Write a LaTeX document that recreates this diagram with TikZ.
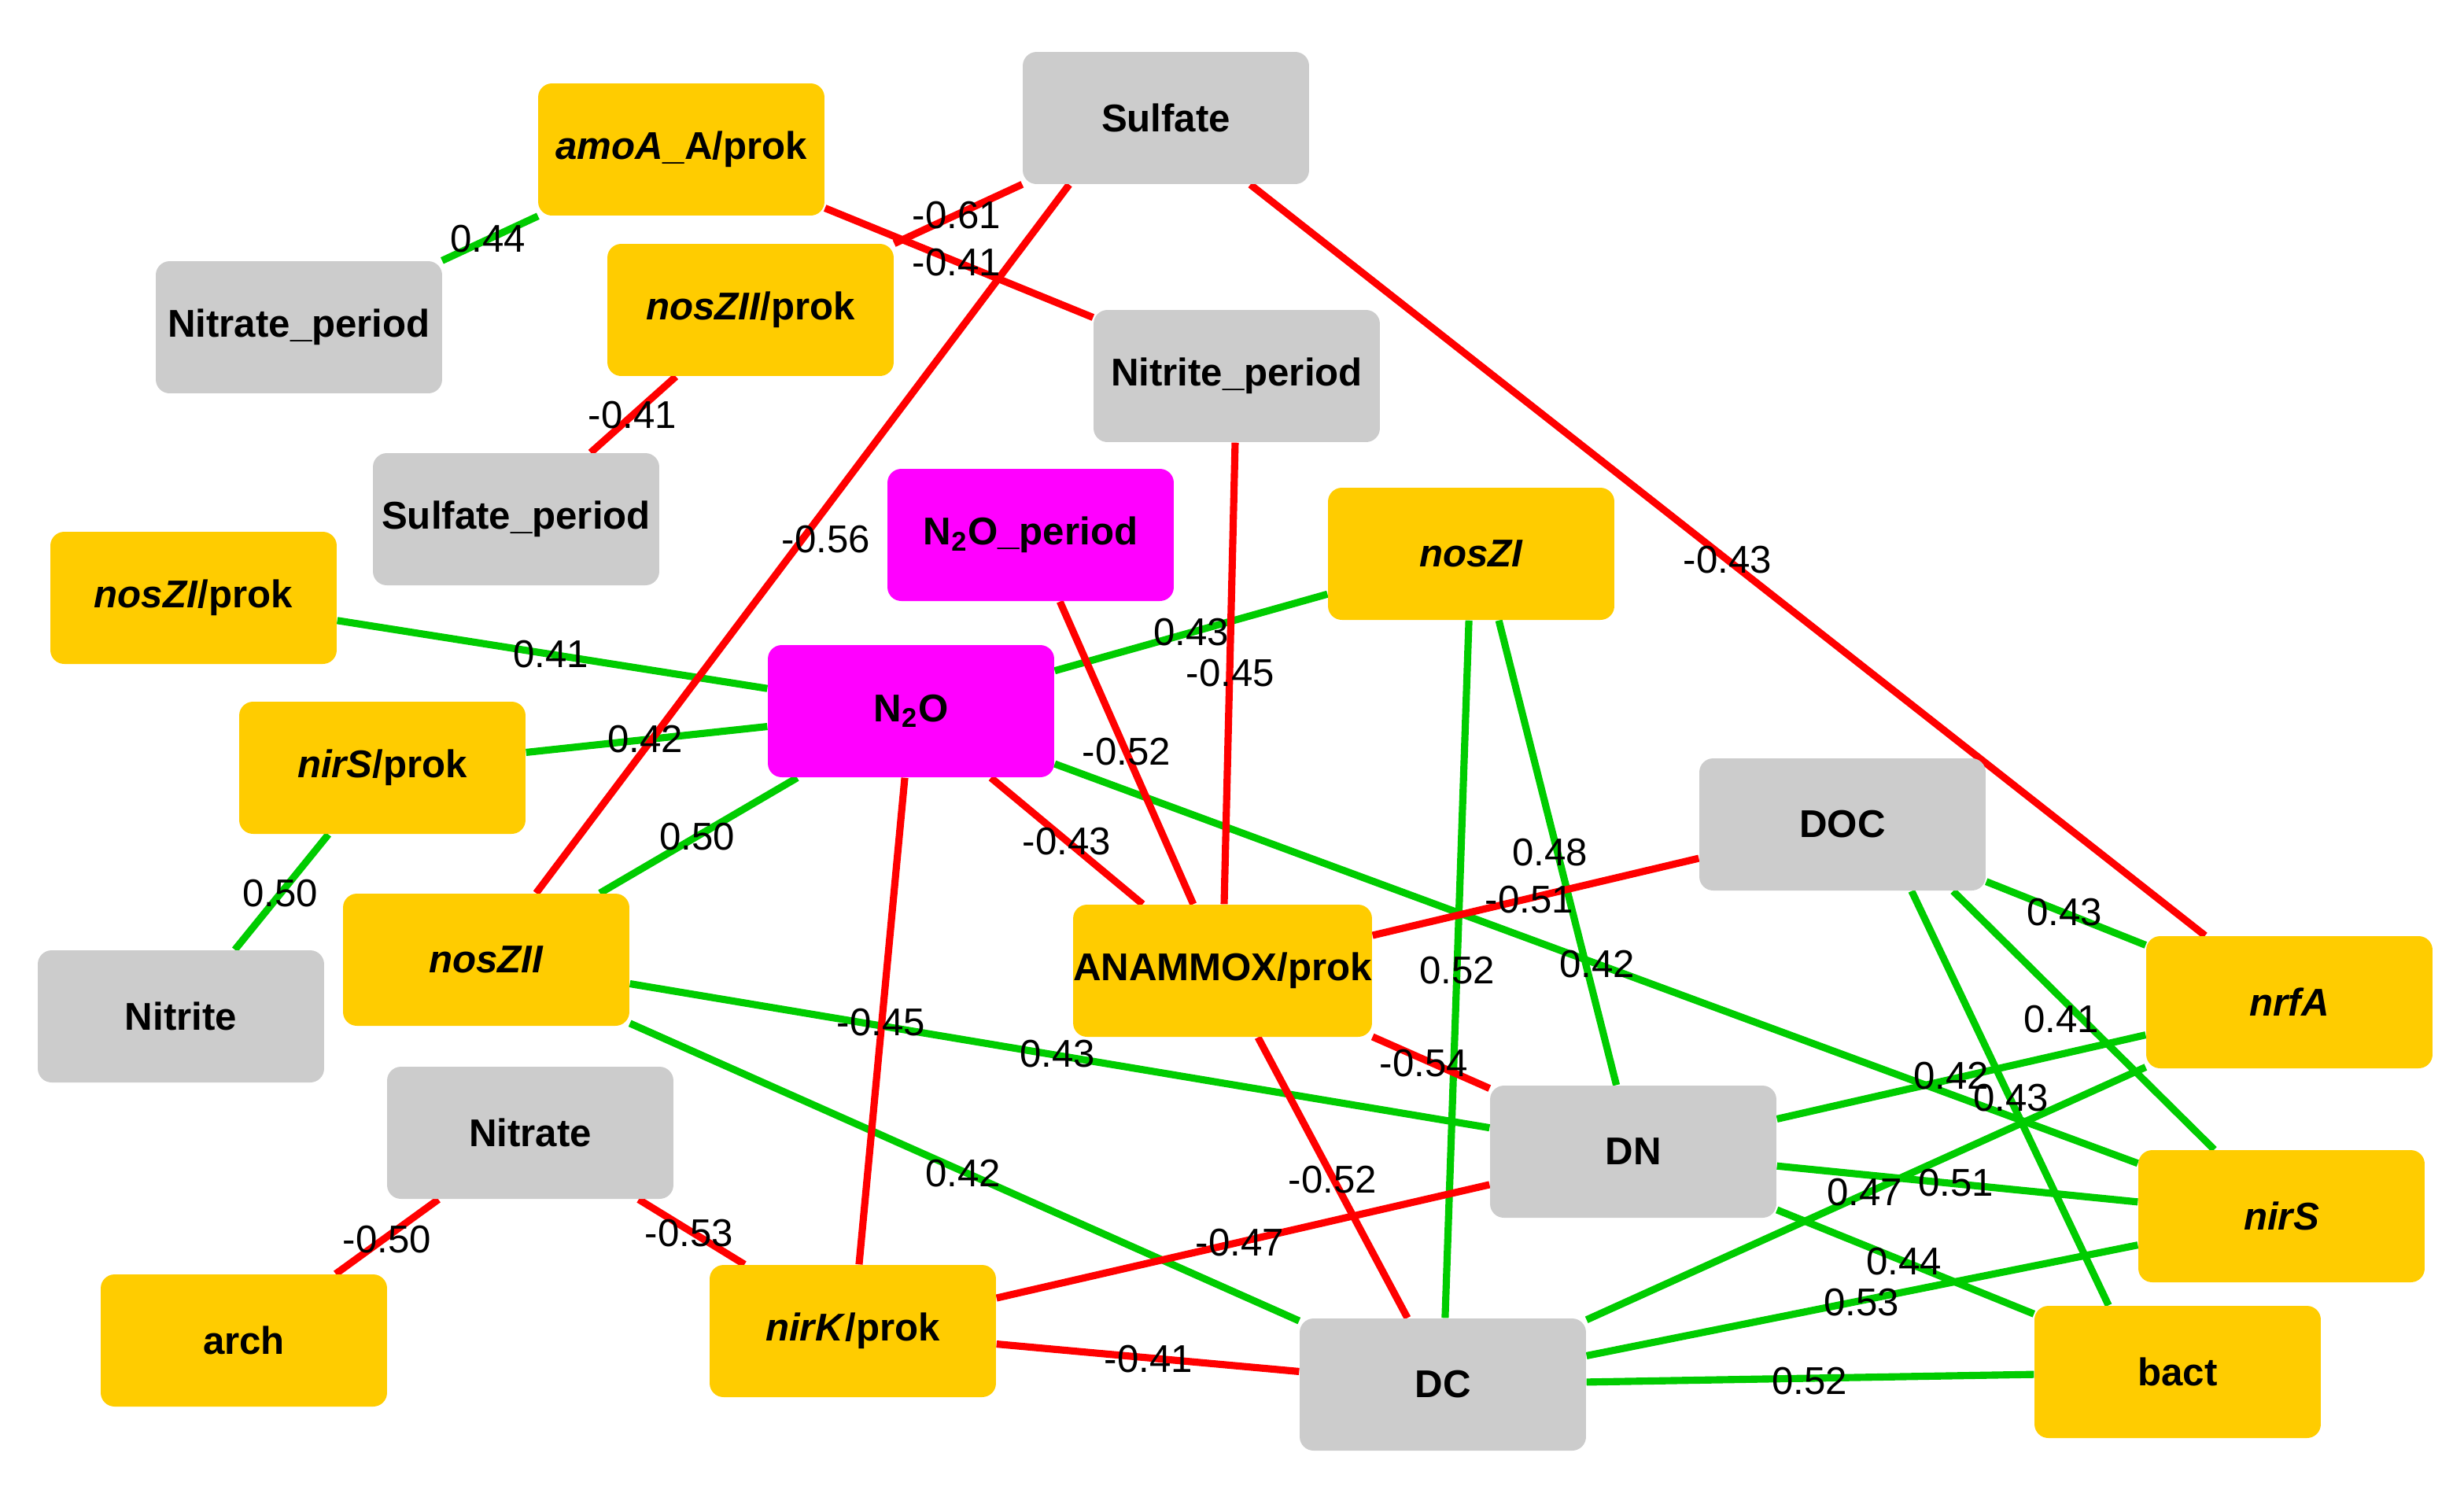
\documentclass[tikz,border=0pt]{standalone}
\usepackage{fontspec}
\setmainfont{Liberation Sans}
\usetikzlibrary{backgrounds}
\begin{document}
\begin{tikzpicture}[x=0.02cm,y=-0.02cm,
 box/.style={rounded corners=5pt,minimum width=3.64cm,minimum height=1.68cm,font=\fontsize{14}{16}\selectfont\bfseries,inner sep=0pt},
 yel/.style={box,fill={rgb,255:red,255;green,204;blue,0}},
 gry/.style={box,fill={rgb,255:red,204;green,204;blue,204}},
 mag/.style={box,fill={rgb,255:red,255;green,0;blue,255}},
 lab/.style={font=\fontsize{14}{16}\selectfont,inner sep=0pt},
 posedge/.style={draw={rgb,255:red,0;green,204;blue,0},line width=2.6pt},
 negedge/.style={draw={rgb,255:red,255;green,0;blue,0},line width=2.6pt}]
\useasboundingbox (0,0) rectangle (1566,944);
\node[yel] (amo) at (433,95) {\textit{amoA}\_A/prok};
\node[gry] (sulf) at (741,75) {Sulfate};
\node[gry] (nitrp) at (190,208) {Nitrate\_period};
\node[yel] (nz2p) at (477,197) {\textit{nosZII}/prok};
\node[gry] (nitip) at (786,239) {Nitrite\_period};
\node[gry] (sulfp) at (328,330) {Sulfate\_period};
\node[mag] (n2op) at (655,340) {N\textsubscript{2}O\_period};
\node[yel] (nz1) at (935,352) {\textit{nosZI}};
\node[yel] (nz1p) at (123,380) {\textit{nosZI}/prok};
\node[mag] (n2o) at (579,452) {N\textsubscript{2}O};
\node[yel] (nirsp) at (243,488) {\textit{nirS}/prok};
\node[gry] (doc) at (1171,524) {DOC};
\node[yel] (nz2) at (309,610) {\textit{nosZII}};
\node[yel] (ana) at (777,617) {ANAMMOX/prok};
\node[gry] (niti) at (115,646) {Nitrite};
\node[yel] (nrfa) at (1455,637) {\textit{nrfA}};
\node[gry] (nitr) at (337,720) {Nitrate};
\node[gry] (dn) at (1038,732) {DN};
\node[yel] (nirs) at (1450,773) {\textit{nirS}};
\node[yel] (arch) at (155,852) {arch};
\node[yel] (nirkp) at (542,846) {\textit{nirK}/prok};
\node[gry] (dc) at (917,880) {DC};
\node[yel] (bact) at (1384,872) {bact};
\begin{scope}[on background layer]
\draw[posedge] (amo) -- (nitrp);
\draw[posedge] (nz1p) -- (n2o);
\draw[posedge] (nirsp) -- (n2o);
\draw[posedge] (n2o) -- (nz2);
\draw[posedge] (nirsp) -- (niti);
\draw[posedge] (n2o) -- (nz1);
\draw[posedge] ([xshift=10pt]nz1.south) -- (dn);
\draw[posedge] (nz1) -- (dc);
\draw[posedge] (n2o) -- (nirs);
\draw[posedge] (nz2) -- (dn);
\draw[posedge] (nz2) -- (dc);
\draw[posedge] (doc) -- (nrfa);
\draw[posedge] ([xshift=40pt]doc.south) -- (nirs);
\draw[posedge] ([xshift=25pt]doc.south) -- ([xshift=-25pt]bact.north);
\draw[posedge] (dn) -- (nrfa);
\draw[posedge] (dn) -- (nirs);
\draw[posedge] (dn) -- (bact);
\draw[posedge] (dc) -- (nrfa);
\draw[posedge] (dc) -- (nirs);
\draw[posedge] (dc) -- (bact);
\draw[negedge] (sulf) -- (nz2p);
\draw[negedge] (amo) -- (nitip);
\draw[negedge] (nz2p) -- (sulfp);
\draw[negedge] ([xshift=-35pt]sulf.south) -- (nz2);
\draw[negedge] (sulf) -- (nrfa);
\draw[negedge] (n2op) -- (ana);
\draw[negedge] (nitip) -- (ana);
\draw[negedge] (n2o) -- (ana);
\draw[negedge] (n2o) -- (nirkp);
\draw[negedge] (doc) -- (ana);
\draw[negedge] (ana) -- (dn);
\draw[negedge] (ana) -- (dc);
\draw[negedge] (dn) -- (nirkp);
\draw[negedge] (nirkp) -- (dc);
\draw[negedge] (nitr) -- (arch);
\draw[negedge] (nitr) -- (nirkp);
\end{scope}
\node[lab] (l1) at (310,152) {0.44};
\node[lab] (l2) at (350,416) {0.41};
\node[lab] (l3) at (410,470) {0.42};
\node[lab] (l4) at (443,532) {0.50};
\node[lab] (l5) at (178,568) {0.50};
\node[lab] (l6) at (757,402) {0.43};
\node[lab] (l7) at (985,542) {0.48};
\node[lab] (l8) at (926,617) {0.52};
\node[lab] (l9) at (1015,613) {0.42};
\node[lab] (l10) at (672,670) {0.43};
\node[lab] (l11) at (612,746) {0.42};
\node[lab] (l12) at (1312,580) {0.43};
\node[lab] (l13) at (1310,648) {0.41};
\node[lab] (l14) at (1278,698) {0.43};
\node[lab] (l15) at (1240,684) {0.42};
\node[lab] (l16) at (1243,752) {0.51};
\node[lab] (l17) at (1210,802) {0.44};
\node[lab] (l18) at (1185,758) {0.47};
\node[lab] (l19) at (1183,828) {0.53};
\node[lab] (l20) at (1150,878) {0.52};
\node[lab] (l21) at (608,137) {-0.61};
\node[lab] (l22) at (608,167) {-0.41};
\node[lab] (l23) at (402,264) {-0.41};
\node[lab] (l24) at (525,343) {-0.56};
\node[lab] (l25) at (1098,356) {-0.43};
\node[lab] (l26) at (782,428) {-0.45};
\node[lab] (l27) at (716,478) {-0.52};
\node[lab] (l28) at (678,535) {-0.43};
\node[lab] (l29) at (560,650) {-0.45};
\node[lab] (l30) at (972,572) {-0.51};
\node[lab] (l31) at (905,676) {-0.54};
\node[lab] (l32) at (847,750) {-0.52};
\node[lab] (l33) at (788,790) {-0.47};
\node[lab] (l34) at (730,864) {-0.41};
\node[lab] (l35) at (246,788) {-0.50};
\node[lab] (l36) at (438,784) {-0.53};
\end{tikzpicture}
\end{document}
